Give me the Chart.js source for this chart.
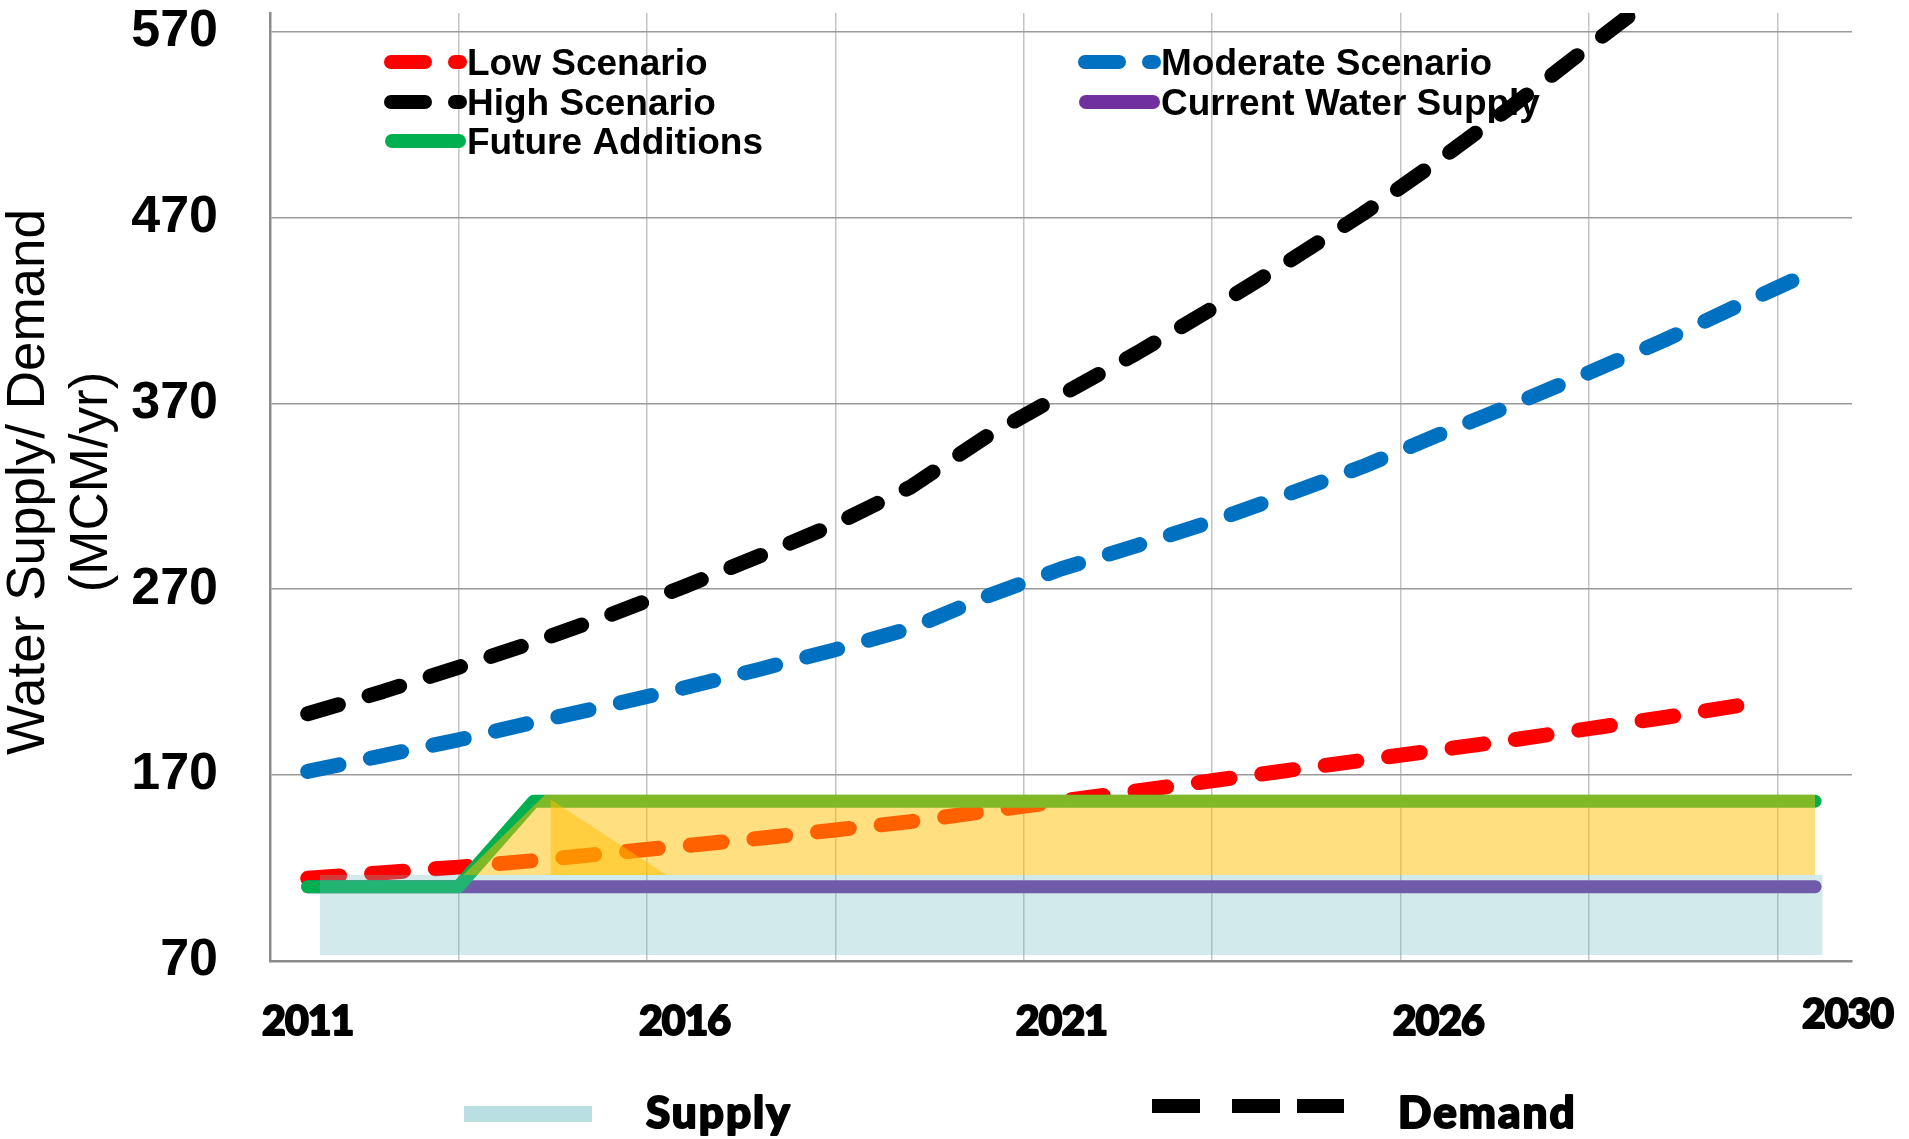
<!DOCTYPE html>
<html>
<head>
<meta charset="utf-8">
<script src="https://cdn.jsdelivr.net/npm/chart.js@4.4.1/dist/chart.umd.min.js"></script>
<style>
  html, body { margin: 0; padding: 0; background: #ffffff; }
  canvas { display: block; }
</style>
</head>
<body>
<canvas id="waterChart" width="1909" height="1139"></canvas>
<script>
// ---- Demand scenarios (MCM/yr) ----
const years = [2011, 2012, 2013, 2014, 2015, 2016, 2017, 2018, 2019, 2020,
               2021, 2022, 2023, 2024, 2025, 2026, 2027, 2028, 2029, 2030];
const lowScenario = [114.5, 117.5, 120.5, 124, 128, 132, 136, 140.5, 145, 150.5,
                     156, 161.5, 167, 172.5, 178, 183.5, 189, 195, 201, 207.5];
const moderateYears = [2011, 2012, 2013, 2014, 2015, 2016, 2017, 2018, 2019, 2020,
                       2021, 2022, 2023, 2024, 2025, 2026, 2027, 2028, 2029, 2030, 2030.7];
const moderateScenario = [172, 180.5, 189, 198.5, 207.5, 217, 227, 237.5, 249, 266,
                          281, 293.5, 306.5, 321, 336, 353, 369.5, 386.5, 404, 423, 436];
const highYears = [2011, 2012, 2013, 2014, 2015, 2016, 2017, 2018, 2019, 2020,
                   2021, 2022, 2023, 2024, 2025, 2026, 2027, 2028, 2029];
const highScenario = [203, 215, 228, 241.5, 256, 271.5, 288, 305, 325, 352,
                      374.5, 397, 421, 446, 472, 500.5, 530.5, 562, 593];

// ---- Supply (MCM/yr) ----
const currentSupplyYears = [2011, 2031];
const currentSupply = [110, 110];
const futureYears = [2011, 2013, 2014, 2031];
const futureAdditions = [110, 110, 156, 156];

// shaded supply block and the added-capacity band above it
const supplyBlockYears = [2011.16, 2031.1];
const supplyBlockTop = [116.2, 116.2];
const supplyBlockBase = 73.2;
const additionBandYears = [2013.06, 2014.15, 2031];
const additionBandTop = [116.2, 159.5, 159.5];
const additionBandBase = 116.2;
const rampYears = [2014.22, 2015.76];
const rampValues = [157, 116.2];

// ---- Axis labels ----
const yTicks = [70, 170, 270, 370, 470, 570];
const xTickLabels = ['2011', '2016', '2021', '2026', '2030'];
const xTickAt = [2011, 2016, 2021, 2026, 2031.43];

const pts = (xs, ys) => xs.map((x, i) => ({ x: x, y: ys[i] }));

const dashedLine = (label, xs, ys, color, order) => ({
  label: label,
  data: pts(xs, ys),
  borderColor: color,
  borderWidth: 15,
  borderDash: [32, 32],
  borderCapStyle: 'round',
  borderJoinStyle: 'round',
  pointRadius: 0,
  fill: false,
  tension: 0,
  order: order
});

const solidLine = (label, xs, ys, color, order) => ({
  label: label,
  data: pts(xs, ys),
  borderColor: color,
  borderWidth: 13,
  borderCapStyle: 'round',
  borderJoinStyle: 'round',
  pointRadius: 0,
  fill: false,
  tension: 0,
  order: order
});

const area = (label, xs, ys, base, color, order) => ({
  label: label,
  data: pts(xs, ys),
  borderColor: 'rgba(0,0,0,0)',
  borderWidth: 0,
  backgroundColor: color,
  pointRadius: 0,
  fill: { value: base },
  tension: 0,
  order: order
});

// ---- Legend inside the plot ----
const TEXT_FONT = '"Liberation Sans", Arial, Helvetica, sans-serif';
const HEAVY_FONT = 'Lato, "Open Sans", sans-serif';
const legendItems = [
  { text: 'Low Scenario',         color: '#ff0000', dashed: true,  col: 0, row: 0 },
  { text: 'High Scenario',        color: '#000000', dashed: true,  col: 0, row: 1 },
  { text: 'Future Additions',     color: '#00b050', dashed: false, col: 0, row: 2 },
  { text: 'Moderate Scenario',    color: '#0070c0', dashed: true,  col: 1, row: 0 },
  { text: 'Current Water Supply', color: '#7030a0', dashed: false, col: 1, row: 1 }
];
const legendColX = [384, 1078];
const legendRowBaseline = [75, 115, 154];

// heavy text: fill plus a thin outline of the same colour
function heavyText(ctx, text, x, y, weight) {
  ctx.lineWidth = weight;
  ctx.lineJoin = 'round';
  ctx.strokeStyle = '#000000';
  ctx.strokeText(text, x, y);
  ctx.fillText(text, x, y);
}

function drawTopLegend(ctx) {
  ctx.save();
  ctx.font = 'bold 37px ' + TEXT_FONT;
  ctx.textAlign = 'left';
  ctx.textBaseline = 'alphabetic';
  legendItems.forEach(item => {
    const x = legendColX[item.col];
    const base = legendRowBaseline[item.row];
    const cy = base - 13;
    ctx.strokeStyle = item.color;
    ctx.lineWidth = 14;
    ctx.lineCap = 'round';
    ctx.beginPath();
    if (item.dashed) {
      ctx.setLineDash([34, 30]);
      ctx.moveTo(x + 7, cy);
      ctx.lineTo(x + 76, cy);
    } else {
      ctx.setLineDash([]);
      ctx.moveTo(x + 8, cy);
      ctx.lineTo(x + 75, cy);
    }
    ctx.stroke();
    ctx.setLineDash([]);
    ctx.fillStyle = '#000000';
    ctx.fillText(item.text, x + 83, base);
  });
  ctx.restore();
}

function drawAxisText(chart) {
  const ctx = chart.ctx;
  const area = chart.chartArea;
  const xs = chart.scales.x;

  // x-axis year labels
  ctx.save();
  ctx.fillStyle = '#000000';
  ctx.font = '900 41px ' + HEAVY_FONT;
  ctx.textAlign = 'center';
  ctx.textBaseline = 'alphabetic';
  ctx.letterSpacing = '-1px';
  xTickLabels.forEach((t, i) => {
    const last = i === xTickLabels.length - 1;
    heavyText(ctx, t, xs.getPixelForValue(xTickAt[i]), area.bottom + (last ? 67 : 74), 2);
  });
  ctx.letterSpacing = '0px';
  ctx.restore();

  // y-axis title, two rotated lines
  const cy = (area.top + area.bottom) / 2 - 5;
  ctx.save();
  ctx.fillStyle = '#000000';
  ctx.font = '53px ' + TEXT_FONT;
  ctx.textAlign = 'center';
  ctx.textBaseline = 'alphabetic';
  [['Water Supply/ Demand', 44], ['(MCM/yr)', 107]].forEach(([t, bx]) => {
    ctx.save();
    ctx.translate(bx, cy);
    ctx.rotate(-Math.PI / 2);
    ctx.fillText(t, 0, 0);
    ctx.restore();
  });
  ctx.restore();
}

function drawBottomLegend(ctx) {
  ctx.save();
  ctx.fillStyle = '#b9dfe2';
  ctx.fillRect(464, 1106, 128, 16);
  ctx.fillStyle = '#000000';
  [[1152, 48], [1232, 48], [1297, 47]].forEach(([x, w]) => ctx.fillRect(x, 1099, w, 14));
  ctx.font = '900 44px ' + HEAVY_FONT;
  ctx.textAlign = 'left';
  ctx.textBaseline = 'alphabetic';
  ctx.letterSpacing = '2px';
  heavyText(ctx, 'Supply', 646, 1128, 2);
  heavyText(ctx, 'Demand', 1398, 1128, 2);
  ctx.letterSpacing = '0px';
  ctx.restore();
}

const decorations = {
  id: 'decorations',
  beforeDatasetsDraw(chart) { drawTopLegend(chart.ctx); },
  afterDraw(chart) {
    drawAxisText(chart);
    drawBottomLegend(chart.ctx);
  }
};

new Chart(document.getElementById('waterChart'), {
  type: 'line',
  data: {
    datasets: [
      dashedLine('High Scenario', highYears, highScenario, '#000000', 0),
      dashedLine('Moderate Scenario', moderateYears, moderateScenario, '#0070c0', 1),
      area('Supply', supplyBlockYears, supplyBlockTop, supplyBlockBase, 'rgba(113,187,194,0.31)', 2),
      area('Additions ramp', rampYears, rampValues, additionBandBase, 'rgba(255,192,0,0.5)', 3),
      area('Additions', additionBandYears, additionBandTop, additionBandBase, 'rgba(255,192,0,0.5)', 4),
      solidLine('Future Additions', futureYears, futureAdditions, '#00b050', 5),
      solidLine('Current Water Supply', currentSupplyYears, currentSupply, '#7030a0', 6),
      dashedLine('Low Scenario', years, lowScenario, '#ff0000', 7)
    ]
  },
  options: {
    responsive: false,
    devicePixelRatio: 1,
    animation: false,
    events: [],
    layout: { padding: { top: 13, right: 57, left: 0, bottom: 0 } },
    plugins: {
      legend: { display: false },
      tooltip: { enabled: false },
      title: { display: false }
    },
    scales: {
      x: {
        type: 'linear',
        min: 2010.5,
        max: 2031.49,
        afterBuildTicks: s => {
          const ticks = [];
          for (let v = s.min; v <= s.max; v += 2.5) ticks.push({ value: v });
          s.ticks = ticks;
        },
        afterFit: s => {
          s.height = 178;
          s.paddingLeft = 0;
          s.paddingRight = 0;
        },
        grid: { color: '#c4c4c4', lineWidth: 1.5, drawTicks: false },
        border: { color: '#8c8c8c', width: 2.5 },
        ticks: { display: false }
      },
      y: {
        type: 'linear',
        min: 70,
        max: 580,
        afterBuildTicks: s => { s.ticks = yTicks.map(v => ({ value: v })); },
        afterFit: s => {
          s.width = 270;
          s.paddingTop = 0;
          s.paddingBottom = 0;
        },
        grid: { color: '#9a9a9a', lineWidth: 1.5, drawTicks: false },
        border: { color: '#8c8c8c', width: 2.5 },
        ticks: {
          padding: 52,
          color: '#000000',
          font: { family: TEXT_FONT, size: 52, weight: 'bold' }
        }
      }
    }
  },
  plugins: [decorations]
});
</script>
</body>
</html>
